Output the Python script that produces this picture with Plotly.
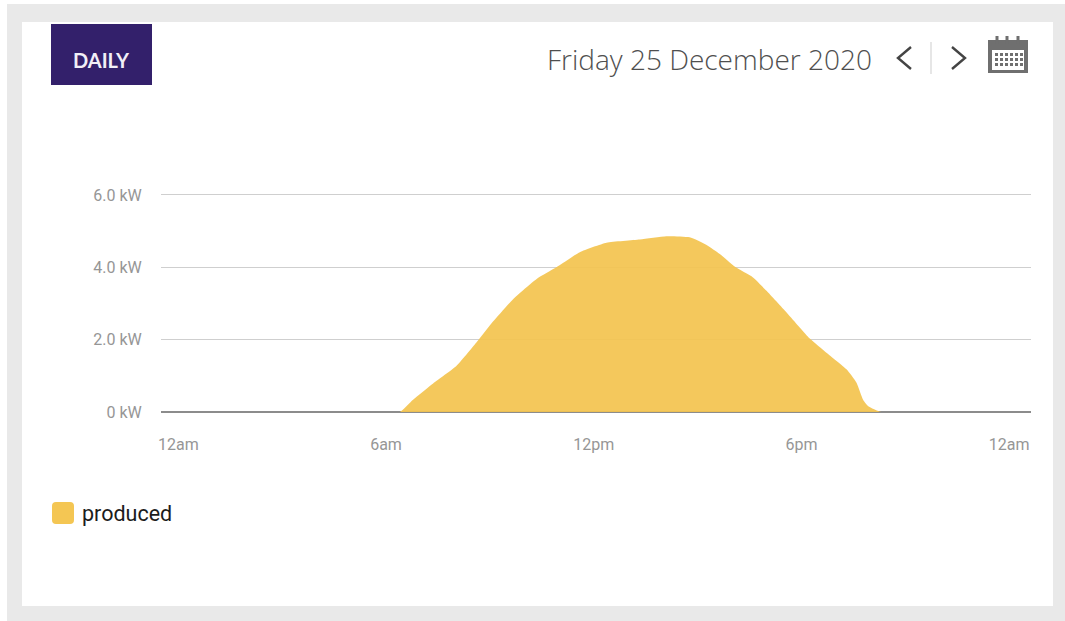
import plotly.graph_objects as go

W, H = 1065, 621

hours = [0, 6.0, 6.40, 6.78, 7.36, 8.03, 8.61, 9.09, 9.67, 10.35, 10.92, 11.6, 12.37, 13.33,
         14.10, 14.77, 15.26, 15.64, 16.07, 16.6, 16.99, 17.57, 18.24, 18.72, 19.3, 19.59,
         19.78, 19.93, 20.31, 24]
produced_kw = [0, 0, 0, 0.34, 0.79, 1.27, 1.92, 2.5, 3.12, 3.68, 4.0, 4.42, 4.68, 4.77,
               4.86, 4.83, 4.62, 4.37, 4.02, 3.72, 3.35, 2.75, 2.03, 1.64, 1.18, 0.81,
               0.34, 0.16, 0, 0]
x_tick_vals = [0, 6, 12, 18, 24]
x_tick_text = ["12am", "6am", "12pm", "6pm", "12am"]
y_tick_vals = [0, 2, 4, 6]
y_tick_text = ["0 kW", "2.0 kW", "4.0 kW", "6.0 kW"]
series_name = "produced"
date_text = "Friday 25 December 2020"
button_text = "DAILY"


def px(x):
    return x / W


def py(y):
    return 1 - y / H


def rect(x0, y0, x1, y1, color, layer="above"):
    return dict(type="rect", xref="paper", yref="paper", x0=px(x0), x1=px(x1),
                y0=py(y0), y1=py(y1), fillcolor=color, line_width=0, layer=layer)


def polyline(points, color, width):
    path = "M " + " L ".join(f"{px(a):.5f},{py(b):.5f}" for a, b in points)
    return dict(type="path", xref="paper", yref="paper", path=path,
                line=dict(color=color, width=width), layer="above")


def rounded(x0, y0, x1, y1, r, color):
    p = lambda a, b: f"{px(a):.5f},{py(b):.5f}"
    path = (f"M {p(x0 + r, y0)} L {p(x1 - r, y0)} Q {p(x1, y0)} {p(x1, y0 + r)} "
            f"L {p(x1, y1 - r)} Q {p(x1, y1)} {p(x1 - r, y1)} L {p(x0 + r, y1)} "
            f"Q {p(x0, y1)} {p(x0, y1 - r)} L {p(x0, y0 + r)} Q {p(x0, y0)} {p(x0 + r, y0)} Z")
    return dict(type="path", xref="paper", yref="paper", path=path, fillcolor=color,
                line_width=0, layer="above")


shapes = [
    rect(7, 4, 1065, 621, "#e9e9e9", "below"),
    rect(22, 22, 1053, 606, "#ffffff", "below"),
    rect(51, 24, 152, 85, "#33206b"),
    polyline([(911, 47), (898, 58), (911, 69)], "#444444", 2.4),
    polyline([(952, 47), (965, 58), (952, 69)], "#444444", 2.4),
    rect(930, 42, 932, 74, "#e6e6e6"),
    rect(988, 40, 1028, 73, "#6f6f6f"),
    rect(992, 50, 1024, 70, "#ffffff"),
    rounded(52, 502, 74, 524, 4, "#f4c653"),
]
for rx in (997, 1007, 1018):
    shapes.append(rect(rx - 1.5, 36, rx + 1.5, 44, "#6f6f6f"))
for gy in (53, 58, 63):
    for gx in (995, 1000, 1005, 1010, 1015, 1020):
        shapes.append(rect(gx, gy, gx + 3, gy + 3, "#6f6f6f"))

fig = go.Figure(go.Scatter(
    x=hours, y=produced_kw, name=series_name, mode="lines", fill="tozeroy",
    line=dict(color="rgba(0,0,0,0)", width=0, shape="spline", smoothing=0.5),
    fillcolor="rgba(243,196,80,0.93)", showlegend=False,
))

fig.update_layout(
    width=W, height=H, margin=dict(l=0, r=0, t=0, b=0),
    paper_bgcolor="#ffffff", plot_bgcolor="rgba(0,0,0,0)", shapes=shapes,
    xaxis=dict(domain=[px(161), px(1031)], range=[-0.5, 24.63], tickmode="array",
               tickvals=x_tick_vals, ticktext=x_tick_text, showgrid=False, zeroline=False,
               automargin=False, ticks="outside", ticklen=18, tickcolor="rgba(0,0,0,0)",
               tickfont=dict(family="Roboto", size=16, color="#969696")),
    yaxis=dict(domain=[py(412), py(185)], range=[0, 6.276], tickmode="array",
               tickvals=y_tick_vals, ticktext=y_tick_text, gridcolor="#cfcfcf", gridwidth=1,
               zeroline=True, zerolinecolor="#8c8c8c", zerolinewidth=1.5, automargin=False,
               ticks="outside", ticklen=15, tickcolor="rgba(0,0,0,0)",
               tickfont=dict(family="Roboto", size=16, color="#969696")),
    annotations=[
        dict(text=f"<b>{button_text}</b>", xref="paper", yref="paper", x=px(101), y=py(60),
             xanchor="center", yanchor="middle", showarrow=False,
             font=dict(family="Lato", size=20, color="#f2eff7")),
        dict(text=date_text, xref="paper", yref="paper", x=px(874), y=py(59),
             xanchor="right", yanchor="middle", showarrow=False,
             font=dict(family="Open Sans", size=28, weight=300, color="#4f4f4f")),
        dict(text=series_name, xref="paper", yref="paper", x=px(80), y=py(513),
             xanchor="left", yanchor="middle", showarrow=False,
             font=dict(family="Roboto", size=21.5, color="#1c1c1c")),
    ],
)

fig.write_html("out.html", config={"displayModeBar": False},
               post_script="document.body.style.margin='0';")
